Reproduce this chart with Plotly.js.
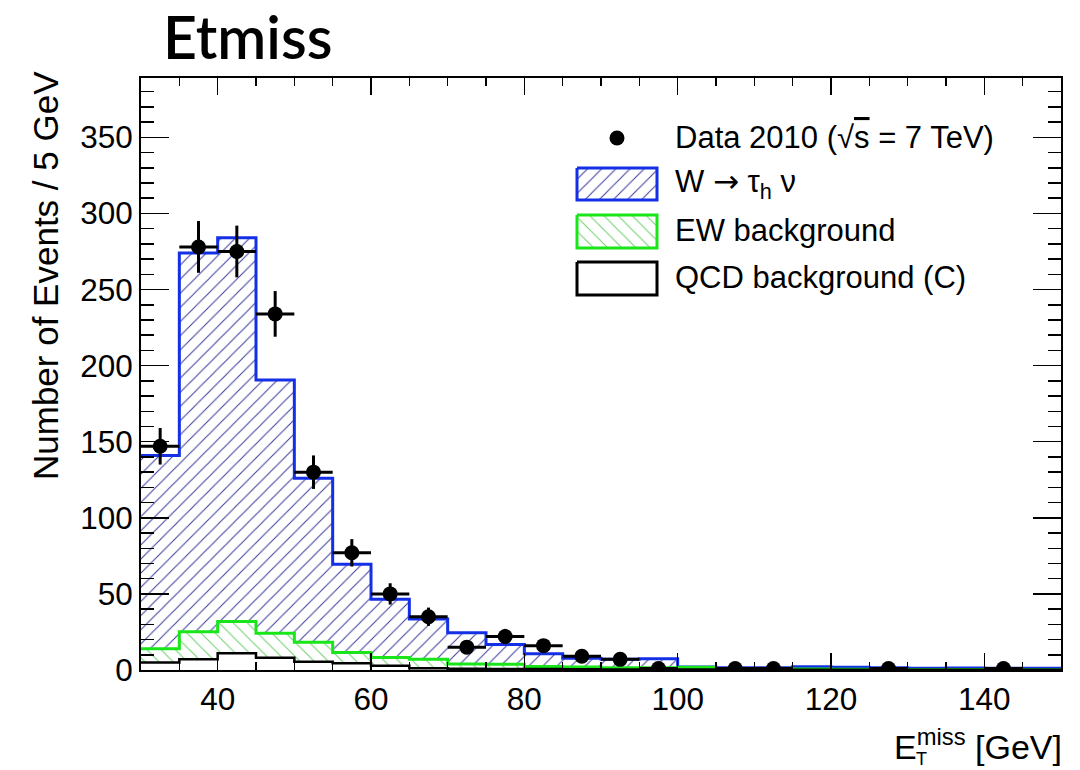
<!DOCTYPE html>
<html>
<head>
<meta charset="utf-8">
<script src="https://cdn.plot.ly/plotly-3.0.1.min.js"></script>
<style>
  html, body { margin: 0; padding: 0; background: #ffffff; }
  #chart { width: 1080px; height: 770px; }
</style>
</head>
<body>
<div id="chart"></div>
<script>
// Missing transverse energy histogram, 5 GeV bins from 30 to 150 GeV
const binEdges = [30, 35, 40, 45, 50, 55, 60, 65, 70, 75, 80, 85, 90, 95, 100,
                  105, 110, 115, 120, 125, 130, 135, 140, 145, 150];

// Expected events per bin for each contribution (stacked bottom to top)
const qcdBkg = [5.0, 7.0, 11.0, 8.0, 5.5, 4.5, 2.8, 1.2, 0.8, 0.7, 0.6, 0.5,
                0.4, 0.4, 0.3, 0.3, 0.2, 0.2, 0.2, 0.2, 0.1, 0.1, 0.1, 0.1];
const ewBkg  = [8.9, 18.1, 20.9, 16.2, 12.8, 7.0, 5.4, 5.8, 3.2, 3.1, 1.7, 1.5,
                1.1, 1.1, 1.5, 0.7, 0.6, 0.4, 0.3, 0.2, 0.2, 0.2, 0.1, 0.1];
const wTauNu = [127.1, 248.9, 252.1, 166.3, 107.7, 58.0, 38.3, 26.5, 20.5, 13.0, 8.3, 5.8,
                5.5, 5.9, 0.1, 0.5, 0.6, 1.5, 1.3, 1.0, 0.8, 1.0, 1.0, 1.0];

// Observed events (non-empty bins), with statistical uncertainties
const dataX   = [32.5, 37.5, 42.5, 47.5, 52.5, 57.5, 62.5, 67.5, 72.5, 77.5, 82.5, 87.5,
                 92.5, 97.5, 107.5, 112.5, 127.5, 142.5];
const dataY   = [147, 278, 275, 234, 130, 77, 50, 35, 15, 22, 16, 9, 7, 1, 1, 1, 1, 1];
const dataErr = [12, 17, 17, 15, 11, 9, 7, 6, 4, 5, 4, 3, 3, 1, 1, 1, 1, 1];

// Axis tick labels
const xTicks = [40, 60, 80, 100, 120, 140];
const yTicks = [0, 50, 100, 150, 200, 250, 300, 350];

// Legend entries
const legendLabels = [
  'Data 2010 (√<span style="text-decoration:overline">s</span> = 7 TeV)',
  'W <span style="font-family:\'DejaVu Sans\'">→</span> τ<sub>h</sub> ν',
  'EW background',
  'QCD background (C)'
];

// ---- frame geometry (pixels) ----
const W = 1080, H = 770;
const M = { l: 141, r: 19, t: 78, b: 100 };
const plotW = W - M.l - M.r, plotH = H - M.t - M.b;
const px = x => (x - M.l) / plotW;          // pixel x -> paper x
const py = y => (H - M.b - y) / plotH;      // pixel y -> paper y

const FONT = '"Liberation Sans", Arial, sans-serif';
const BLUE = '#1330e6', BLUE_HATCH = '#3d3d9e';
const GREEN = '#19e619', GREEN_HATCH = '#6ccf6c';

const nBins = binEdges.length - 1;
const centers = [], widths = [];
for (let i = 0; i < nBins; i++) {
  centers.push((binEdges[i] + binEdges[i + 1]) / 2);
  widths.push(binEdges[i + 1] - binEdges[i]);
}
const cumQcd = qcdBkg.slice();
const cumEw = qcdBkg.map((v, i) => v + ewBkg[i]);
const cumAll = cumEw.map((v, i) => v + wTauNu[i]);
const stepY = arr => arr.concat([arr[arr.length - 1]]);

const blueHatch = { shape: '/', fgcolor: BLUE_HATCH, bgcolor: '#ffffff', size: 10, solidity: 0.1 };
const greenHatch = { shape: '\\', fgcolor: GREEN_HATCH, bgcolor: '#ffffff', size: 10, solidity: 0.1 };

const traces = [
  // filled stack
  { type: 'bar', x: centers, y: qcdBkg, width: widths, name: 'QCD',
    marker: { color: '#ffffff', line: { width: 0 } }, hoverinfo: 'skip', showlegend: false },
  { type: 'bar', x: centers, y: ewBkg, width: widths, name: 'EW',
    marker: { color: '#ffffff', line: { width: 0 }, pattern: greenHatch },
    hoverinfo: 'skip', showlegend: false },
  { type: 'bar', x: centers, y: wTauNu, width: widths, name: 'W',
    marker: { color: '#ffffff', line: { width: 0 }, pattern: blueHatch },
    hoverinfo: 'skip', showlegend: false },
  // step outlines of the cumulative histograms
  { type: 'scatter', mode: 'lines', x: binEdges, y: stepY(cumAll),
    line: { shape: 'hv', color: BLUE, width: 3 }, hoverinfo: 'skip', showlegend: false },
  { type: 'scatter', mode: 'lines', x: binEdges, y: stepY(cumEw),
    line: { shape: 'hv', color: GREEN, width: 3 }, hoverinfo: 'skip', showlegend: false },
  { type: 'scatter', mode: 'lines', x: binEdges, y: stepY(cumQcd),
    line: { shape: 'hv', color: '#000000', width: 2.5 }, hoverinfo: 'skip', showlegend: false },
  // data points
  { type: 'scatter', mode: 'markers', x: dataX, y: dataY,
    marker: { color: '#000000', size: 15 },
    error_x: { type: 'constant', value: 2.5, color: '#000000', thickness: 3, width: 0 },
    error_y: { type: 'data', array: dataErr, color: '#000000', thickness: 3, width: 0 },
    hoverinfo: 'x+y', showlegend: false }
];

// legend glyphs drawn on an overlay axis spanning the frame (0..1)
function box(x0, y0, x1, y1) {
  return { x: [px(x0), px(x1), px(x1), px(x0), px(x0)],
           y: [py(y0), py(y0), py(y1), py(y1), py(y0)] };
}
const bW = box(577, 168, 657, 200), bE = box(577, 215, 657, 248), bQ = box(577, 262, 657, 295);
traces.push(
  { type: 'scatter', mode: 'lines', x: bW.x, y: bW.y, xaxis: 'x2', yaxis: 'y2', fill: 'toself',
    fillcolor: '#ffffff', fillpattern: blueHatch,
    line: { color: BLUE, width: 3 }, hoverinfo: 'skip', showlegend: false },
  { type: 'scatter', mode: 'lines', x: bE.x, y: bE.y, xaxis: 'x2', yaxis: 'y2', fill: 'toself',
    fillcolor: '#ffffff', fillpattern: greenHatch,
    line: { color: GREEN, width: 3 }, hoverinfo: 'skip', showlegend: false },
  { type: 'scatter', mode: 'lines', x: bQ.x, y: bQ.y, xaxis: 'x2', yaxis: 'y2', fill: 'toself',
    fillcolor: '#ffffff', line: { color: '#000000', width: 3 }, hoverinfo: 'skip', showlegend: false },
  { type: 'scatter', mode: 'markers', x: [px(617)], y: [py(138)], xaxis: 'x2', yaxis: 'y2',
    marker: { color: '#000000', size: 15 }, hoverinfo: 'skip', showlegend: false }
);

const legendRows = [138, 183, 230, 277];
const annotations = legendLabels.map((t, i) => ({
  text: t, xref: 'paper', yref: 'paper', x: px(673), y: py(legendRows[i]),
  xanchor: 'left', yanchor: 'middle', showarrow: false,
  font: { family: FONT, size: 31, color: '#000000' }
}));

// axis titles
annotations.push(
  { text: 'Number of Events / 5 GeV', xref: 'paper', yref: 'paper', x: px(45), y: py(276),
    xanchor: 'center', yanchor: 'middle', textangle: -90, showarrow: false,
    font: { family: FONT, size: 35, color: '#000000' } },
  { text: 'E<sup>miss</sup> [GeV]', xref: 'paper', yref: 'paper', x: px(1064), y: py(744),
    xanchor: 'right', yanchor: 'middle', showarrow: false,
    font: { family: FONT, size: 34, color: '#000000' } },
  { text: 'T', xref: 'paper', yref: 'paper', x: px(921), y: py(770),
    xanchor: 'center', yanchor: 'bottom', showarrow: false, borderpad: 0,
    font: { family: FONT, size: 18, color: '#000000' } }
);

const axisCommon = {
  showline: true, linecolor: '#000000', linewidth: 2, mirror: 'ticks',
  ticks: 'inside', tickcolor: '#000000', tickwidth: 1.5,
  showgrid: false, zeroline: false, tickmode: 'array',
  tickfont: { family: FONT, size: 31.5, color: '#000000' }
};

const layout = {
  width: W, height: H,
  margin: M,
  paper_bgcolor: '#ffffff', plot_bgcolor: '#ffffff',
  barmode: 'stack', bargap: 0,
  showlegend: false,
  title: { text: 'Etmiss', x: 163 / W, xanchor: 'left', y: 1 - 38 / H, yanchor: 'middle',
           font: { family: 'Lato, "Noto Sans", sans-serif', size: 59, weight: 600, color: '#000000' } },
  xaxis: Object.assign({}, axisCommon, {
    range: [30, 150], tickvals: xTicks, ticklen: 17,
    minor: { dtick: 5, tick0: 30, ticks: 'inside', ticklen: 8, tickwidth: 1.5, tickcolor: '#000000', showgrid: false }
  }),
  yaxis: Object.assign({}, axisCommon, {
    range: [0, 389], tickvals: yTicks, ticklen: 28,
    minor: { dtick: 10, tick0: 0, ticks: 'inside', ticklen: 13, tickwidth: 1.5, tickcolor: '#000000', showgrid: false }
  }),
  xaxis2: { overlaying: 'x', anchor: 'y2', range: [0, 1], visible: false, fixedrange: true },
  yaxis2: { overlaying: 'y', anchor: 'x2', range: [0, 1], visible: false, fixedrange: true },
  annotations: annotations
};

Plotly.newPlot('chart', traces, layout, { displayModeBar: false, staticPlot: true });
</script>
</body>
</html>
